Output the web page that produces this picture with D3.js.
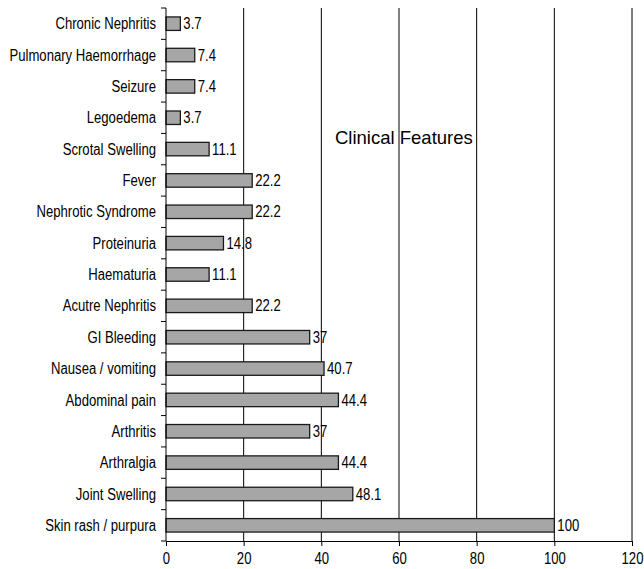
<!DOCTYPE html>
<html>
<head>
<meta charset="utf-8">
<script src="https://cdn.jsdelivr.net/npm/d3@7"></script>
<style>
  html, body { margin: 0; padding: 0; background: #fff; }
  svg text { font-family: "Liberation Sans", Arial, sans-serif; fill: #000; }
</style>
</head>
<body>
<svg id="chart" width="644" height="569"></svg>
<script>
// Clinical features, listed top to bottom
const categories = [
  "Chronic Nephritis", "Pulmonary Haemorrhage", "Seizure", "Legoedema",
  "Scrotal Swelling", "Fever", "Nephrotic Syndrome", "Proteinuria",
  "Haematuria", "Acutre Nephritis", "GI Bleeding", "Nausea / vomiting",
  "Abdominal pain", "Arthritis", "Arthralgia", "Joint Swelling",
  "Skin rash / purpura"
];
const percentages = [
  3.7, 7.4, 7.4, 3.7, 11.1, 22.2, 22.2, 14.8, 11.1, 22.2,
  37, 40.7, 44.4, 37, 44.4, 48.1, 100
];
const xTicks = [0, 20, 40, 60, 80, 100, 120];
const chartTitle = "Clinical Features";

const svg = d3.select("#chart");
const plotLeft = 166, plotRight = 632, plotTop = 8, plotBottom = 541;
const fontSize = 16;
const narrow = 0.82; // condensed label lettering

const x = d3.scaleLinear().domain([0, 120]).range([plotLeft, plotRight]);
const y = d3.scaleBand().domain(categories).range([plotTop, plotBottom])
  .paddingInner(0.57).paddingOuter(0.285);
const mid = d => y(d) + y.bandwidth() / 2;

// vertical gridlines
svg.append("g").selectAll("line")
  .data(xTicks.filter(d => d > 0))
  .join("line")
  .attr("x1", d => x(d)).attr("x2", d => x(d))
  .attr("y1", plotTop).attr("y2", plotBottom)
  .attr("stroke", "#000").attr("stroke-width", 1);

// bars
svg.append("g").selectAll("rect")
  .data(categories)
  .join("rect")
  .attr("x", x(0))
  .attr("y", d => y(d))
  .attr("width", (d, i) => x(percentages[i]) - x(0))
  .attr("height", y.bandwidth())
  .attr("fill", "#a6a6a6")
  .attr("stroke", "#1a1a1a")
  .attr("stroke-width", 1.3);

// value labels
svg.append("g").selectAll("text")
  .data(categories)
  .join("text")
  .attr("transform", (d, i) => `translate(${x(percentages[i]) + 3},${mid(d)}) scale(${narrow},1)`)
  .attr("dy", "0.35em")
  .attr("font-size", fontSize)
  .text((d, i) => percentages[i]);

// x axis
const xAxis = svg.append("g")
  .attr("transform", `translate(0,${plotBottom})`)
  .call(d3.axisBottom(x).tickValues(xTicks).tickSize(5).tickSizeOuter(0).tickPadding(7));
xAxis.select(".domain").attr("stroke", "#000");
xAxis.selectAll(".tick line").attr("stroke", "#000");
xAxis.selectAll(".tick text")
  .attr("font-size", fontSize)
  .attr("font-family", "Liberation Sans, Arial, sans-serif")
  .attr("transform", `scale(${narrow},1)`)
  .attr("x", 0);

// y axis with ticks at band boundaries
const yAxisG = svg.append("g");
yAxisG.append("line")
  .attr("x1", plotLeft).attr("x2", plotLeft).attr("y1", plotTop).attr("y2", plotBottom)
  .attr("stroke", "#000");
const boundaries = d3.range(categories.length + 1)
  .map(i => plotTop + i * (plotBottom - plotTop) / categories.length);
yAxisG.selectAll("line.tick")
  .data(boundaries)
  .join("line")
  .attr("class", "tick")
  .attr("x1", plotLeft - 5).attr("x2", plotLeft)
  .attr("y1", d => d).attr("y2", d => d)
  .attr("stroke", "#000");
yAxisG.selectAll("text")
  .data(categories)
  .join("text")
  .attr("transform", d => `translate(${plotLeft - 10},${mid(d)}) scale(${narrow},1)`)
  .attr("dy", "0.35em")
  .attr("text-anchor", "end")
  .attr("font-size", fontSize)
  .text(d => d);

// title
svg.append("text")
  .attr("x", 335)
  .attr("y", 144)
  .attr("font-size", 18.5)
  .text(chartTitle);
</script>
</body>
</html>
